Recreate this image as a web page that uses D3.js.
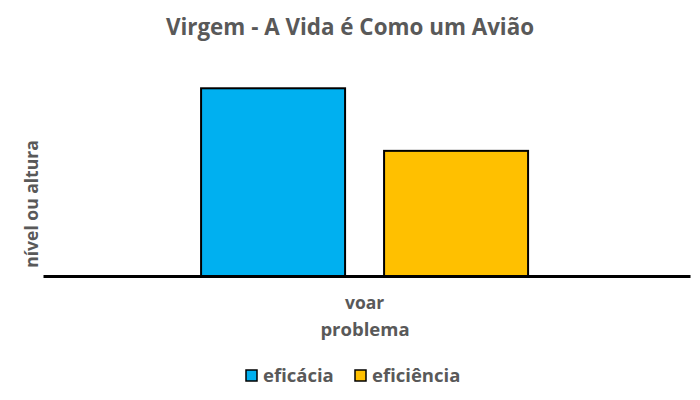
<!DOCTYPE html>
<html><head><meta charset="utf-8">
<script src="https://cdn.jsdelivr.net/npm/d3@7"></script>
<style>body{margin:0;background:#fff}</style>
</head><body>
<svg id="c" width="700" height="400"></svg>
<script>
const categories = ["voar"];
const seriesNames = ["eficácia", "eficiência"];
const seriesColors = ["#00B0F0", "#FFC000"];
const eficacia = [3];
const eficiencia = [2];
const title = "Virgem - A Vida é Como um Avião";
const xTitle = "problema";
const yTitle = "nível ou altura";

const values = [eficacia, eficiencia];
const svg = d3.select("#c");
const font = "'Open Sans', Lato, sans-serif";
const gray = "#595959";
const m = {left: 43, right: 690, top: 57, bottom: 276};

const x = d3.scaleBand().domain(categories).range([m.left, m.right]).paddingInner(0).paddingOuter(0.4893).align(0.494);
const xs = d3.scaleBand().domain(seriesNames).range([0, x.bandwidth()]).paddingInner(0.2131).paddingOuter(0);
const y = d3.scaleLinear().domain([0, 3.5]).range([m.bottom, m.top]);

const g = svg.append("g");
categories.forEach((c, ci) => {
  seriesNames.forEach((s, si) => {
    const v = values[si][ci];
    g.append("rect")
      .attr("x", x(c) + xs(s))
      .attr("y", y(v))
      .attr("width", xs.bandwidth())
      .attr("height", y(0) - y(v))
      .attr("fill", seriesColors[si])
      .attr("stroke", "#000").attr("stroke-width", 2);
  });
});

const xAxis = svg.append("g").attr("transform", `translate(0,${y(0)})`)
  .call(d3.axisBottom(x).tickSize(0).tickPadding(21));
xAxis.select(".domain").attr("stroke", "#000").attr("stroke-width", 3);
xAxis.selectAll("text").attr("font-family", font).attr("font-weight", "bold")
  .attr("font-size", 17.5).attr("fill", gray);

svg.append("text").attr("x", 350).attr("y", 35).attr("text-anchor", "middle")
  .attr("font-family", font).attr("font-weight", "bold").attr("font-size", 22.4)
  .attr("fill", gray).text(title);

svg.append("text").attr("x", 365).attr("y", 336).attr("text-anchor", "middle")
  .attr("font-family", font).attr("font-weight", "bold").attr("font-size", 18.5)
  .attr("fill", gray).text(xTitle);

svg.append("text").attr("transform", "translate(38,204) rotate(-90)").attr("text-anchor", "middle")
  .attr("font-family", font).attr("font-weight", "bold").attr("font-size", 17.5)
  .attr("fill", gray).text(yTitle);

const legX = [246, 355];
seriesNames.forEach((s, i) => {
  svg.append("rect").attr("x", legX[i]).attr("y", 370).attr("width", 11).attr("height", 11)
    .attr("fill", seriesColors[i]).attr("stroke", "#000").attr("stroke-width", 1.5);
  svg.append("text").attr("x", legX[i] + 17).attr("y", 382)
    .attr("font-family", font).attr("font-weight", "bold").attr("font-size", 18.5)
    .attr("fill", gray).text(s);
});
</script>
</body></html>
